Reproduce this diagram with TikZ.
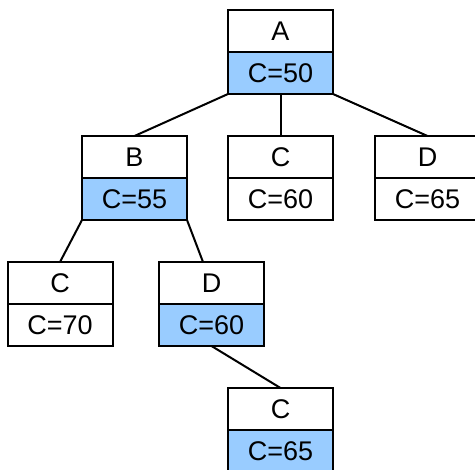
\documentclass[tikz,border=0pt]{standalone}
\usepackage{fontspec}
\setmainfont{Liberation Sans}
\usetikzlibrary{positioning}
\usetikzlibrary{calc}
\definecolor{costblue}{RGB}{153,204,255}

\begin{document}
\begin{tikzpicture}[x=1pt,y=-1pt,
    lbl/.style={draw, line width=2pt, outer sep=0pt, inner sep=0pt,
      minimum width=105pt, minimum height=42pt, fill=white,
      font=\fontsize{27}{32}\selectfont},
    cost/.style={lbl, fill=costblue},
    edge/.style={line width=2pt}]
  \useasboundingbox (0,0) rectangle (475,470);
  \node (A) at (280.5,31) [lbl] {A};
  \node (Ac) [cost, below=0pt of A] {C=50};
  \node (B) at (134.5,157) [lbl] {B};
  \node (Bc) [cost, below=0pt of B] {C=55};
  \node (C1) at (280.5,157) [lbl] {C};
  \node (C1c) [lbl, below=0pt of C1] {C=60};
  \node (D1) at (427.5,157) [lbl] {D};
  \node (D1c) [lbl, below=0pt of D1] {C=65};
  \node (C2) at (60,283) [lbl] {C};
  \node (C2c) [lbl, below=0pt of C2] {C=70};
  \node (D2) at (211.5,283) [lbl] {D};
  \node (D2c) [cost, below=0pt of D2] {C=60};
  \node (C3) at (280.5,409) [lbl] {C};
  \node (C3c) [cost, below=0pt of C3] {C=65};
  \draw[edge] (Ac.south west) -- (B.north);
  \draw[edge] (Ac.south) -- (C1.north);
  \draw[edge] (Ac.south east) -- (D1.north);
  \draw[edge] (Bc.south west) -- (C2.north);
  \draw[edge] (Bc.south east) -- ($(D2.north)+(-8.5,0)$);
  \draw[edge] (D2c.south) -- (C3.north);
\end{tikzpicture}
\end{document}
